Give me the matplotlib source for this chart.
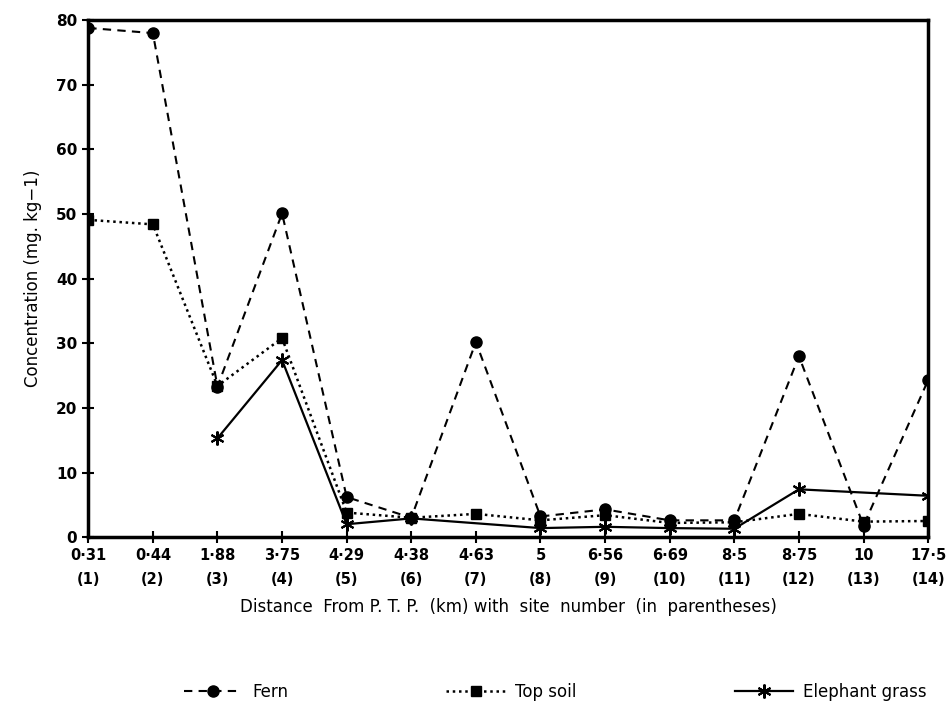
import numpy as np
import matplotlib.pyplot as plt

# distance (km) and site number for each category on the x axis
distances = ["0·31", "0·44", "1·88", "3·75", "4·29", "4·38", "4·63",
             "5", "6·56", "6·69", "8·5", "8·75", "10", "17·5"]
sites = list(range(1, 15))

fern = [78.8, 78.0, 23.3, 50.1, 6.2, 3.0, 30.2, 3.2, 4.3, 2.6, 2.6, 28.0, 1.8, 24.3]
top_soil = [49.1, 48.4, 23.4, 30.8, 3.8, 3.0, 3.6, 2.6, 3.4, 2.2, 2.3, 3.6, 2.4, 2.5]
# elephant grass was not sampled at sites 1, 2 and 13
grass_sites = [3, 4, 5, 6, 8, 9, 10, 11, 12, 14]
grass = [15.3, 27.4, 2.0, 2.9, 1.4, 1.6, 1.4, 1.3, 7.4, 6.4]

tick_labels = [d + "\n(" + str(s) + ")" for d, s in zip(distances, sites)]
x = np.arange(len(sites))
x_grass = [s - 1 for s in grass_sites]

fig = plt.figure(figsize=(9.49, 7.21), dpi=100)
ax = fig.add_axes([0.093, 0.255, 0.885, 0.717])

ax.plot(x, fern, color="black", linestyle=(0, (4, 3)), linewidth=1.5,
        marker="o", markersize=8, label="Fern", zorder=3)
ax.plot(x, top_soil, color="black", linestyle=(0, (1, 1.5)), linewidth=1.8,
        marker="s", markersize=7.5, label="Top soil", zorder=3)
ax.plot(x_grass, grass, color="black", linestyle="-", linewidth=1.6,
        marker=(6, 2, 0), markersize=10, markeredgewidth=1.5,
        label="Elephant grass", zorder=4)

ax.set_xlim(0, 13)
ax.set_ylim(0, 80)
ax.set_xticks(x)
ax.set_xticklabels(tick_labels, fontsize=10.5, fontweight="bold", linespacing=1.7)
ax.set_yticks(np.arange(0, 81, 10))
ax.set_yticklabels([str(v) for v in range(0, 81, 10)], fontsize=11, fontweight="bold")
ax.tick_params(direction="inout", length=8, width=1.5, pad=4)
for sp in ax.spines.values():
    sp.set_linewidth(2.5)

ax.set_ylabel("Concentration (mg. kg−1)", fontsize=12, labelpad=10)
ax.set_xlabel("Distance  From P. T. P.  (km) with  site  number  (in  parentheses)",
              fontsize=12, labelpad=8)

fig.legend(loc="lower center", bbox_to_anchor=(0.585, 0.007), ncol=3, frameon=False,
           fontsize=12, columnspacing=9.5, handlelength=3.5, handletextpad=0.6)

fig.savefig("out.png", dpi=100)
